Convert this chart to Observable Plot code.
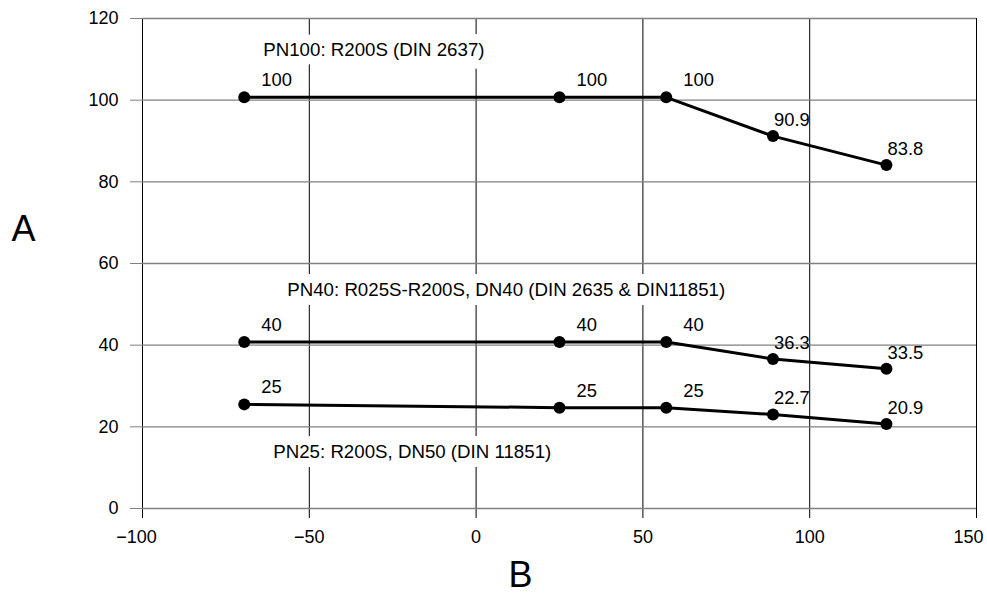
<!DOCTYPE html>
<html>
<head>
<meta charset="utf-8">
<script src="https://cdn.jsdelivr.net/npm/d3@7"></script>
<script src="https://cdn.jsdelivr.net/npm/@observablehq/plot@0.6"></script>
<style>
  html, body { margin: 0; padding: 0; background: white; }
</style>
</head>
<body>
<div id="chart"></div>
<script>
// x positions of the points (axis B)
const temps = [-69.5, 25, 57, 89, 123];
// series values (axis A)
const pn100 = [100.7, 100.7, 100.7, 91.2, 84.1];
const pn40 = [40.8, 40.8, 40.8, 36.6, 34.2];
const pn25 = [25.5, 24.7, 24.7, 23.0, 20.7];
// printed value labels
const pn100Labels = ["100", "100", "100", "90.9", "83.8"];
const pn40Labels = ["40", "40", "40", "36.3", "33.5"];
const pn25Labels = ["25", "25", "25", "22.7", "20.9"];
const seriesNames = [
  "PN100: R200S (DIN 2637)",
  "PN40: R025S-R200S, DN40 (DIN 2635 & DIN11851)",
  "PN25: R200S, DN50 (DIN 11851)"
];
const xTicks = [-100, -50, 0, 50, 100, 150];
const yTicks = [0, 20, 40, 60, 80, 100, 120];
const xLabel = "B";
const yLabel = "A";

const seriesValues = [pn100, pn40, pn25];
const seriesLabels = [pn100Labels, pn40Labels, pn25Labels];
const rows = [];
seriesNames.forEach((name, s) => {
  temps.forEach((t, i) => {
    rows.push({series: name, i, x: t, y: seriesValues[s][i], label: seriesLabels[s][i]});
  });
});
const nameRows = seriesNames.map((name, s) => ({name, x: temps[0], y: seriesValues[s][0]}));

const fmt = d3.format("d");
const xFirst = xTicks[0];
const xLast = xTicks[xTicks.length - 1];

const chart = Plot.plot({
  width: 987,
  height: 607,
  marginLeft: 142,
  marginRight: 11,
  marginTop: 18,
  marginBottom: 99,
  x: {domain: [xFirst, xLast]},
  y: {domain: [0, 120]},
  style: {fontFamily: "'Liberation Sans', Arial, sans-serif", fontSize: "18px", color: "black", background: "white"},
  marks: [
    Plot.gridX(xTicks, {stroke: "black", strokeOpacity: 1, strokeWidth: 1}),
    Plot.axisX(xTicks, {tickSize: 10, tickPadding: 12, stroke: "black", fill: "black",
      tickFormat: d => (d === xFirst || d === xLast) ? "" : fmt(d), label: null}),
    Plot.axisX([xFirst], {tickSize: 0, tickPadding: 22, dx: -6, fill: "black", tickFormat: fmt, label: null}),
    Plot.axisX([xLast], {tickSize: 0, tickPadding: 22, dx: -8, fill: "black", tickFormat: fmt, label: null}),
    Plot.gridY(yTicks, {stroke: "#808080", strokeOpacity: 1, strokeWidth: 1.3}),
    Plot.axisY(yTicks, {tickSize: 12, tickPadding: 12, stroke: "#808080", fill: "black", tickFormat: fmt, label: null}),
    // series names with white boxes
    Plot.text(nameRows.filter((d, s) => s === 0), {x: "x", y: "y", text: "name", textAnchor: "start", dx: 19, dy: -47, fontSize: 18.7, fill: "black", stroke: "white", strokeWidth: 18}),
    Plot.text(nameRows.filter((d, s) => s === 1), {x: "x", y: "y", text: "name", textAnchor: "start", dx: 43, dy: -52, fontSize: 18.7, fill: "black", stroke: "white", strokeWidth: 18}),
    Plot.text(nameRows.filter((d, s) => s === 2), {x: "x", y: "y", text: "name", textAnchor: "start", dx: 29, dy: 48, fontSize: 18.7, fill: "black", stroke: "white", strokeWidth: 18}),
    Plot.line(rows, {x: "x", y: "y", z: "series", stroke: "black", strokeWidth: 3}),
    Plot.dot(rows, {x: "x", y: "y", r: 6, fill: "black"}),
    Plot.text(rows.filter(d => d.i < 3), {x: "x", y: "y", text: "label", textAnchor: "start", dx: 17, dy: -17, fontSize: 18.4, fill: "black"}),
    Plot.text(rows.filter(d => d.i >= 3), {x: "x", y: "y", text: "label", textAnchor: "start", dx: 1, dy: -16, fontSize: 18.4, fill: "black"}),
    Plot.text([yLabel], {text: d => d, frameAnchor: "left", dx: -119, dy: -34, fontSize: 36, textAnchor: "middle", fill: "black"}),
    Plot.text([xLabel], {text: d => d, frameAnchor: "bottom", dx: -39, dy: 78, fontSize: 36, textAnchor: "middle", fill: "black"})
  ]
});
document.getElementById("chart").appendChild(chart);
</script>
</body>
</html>
